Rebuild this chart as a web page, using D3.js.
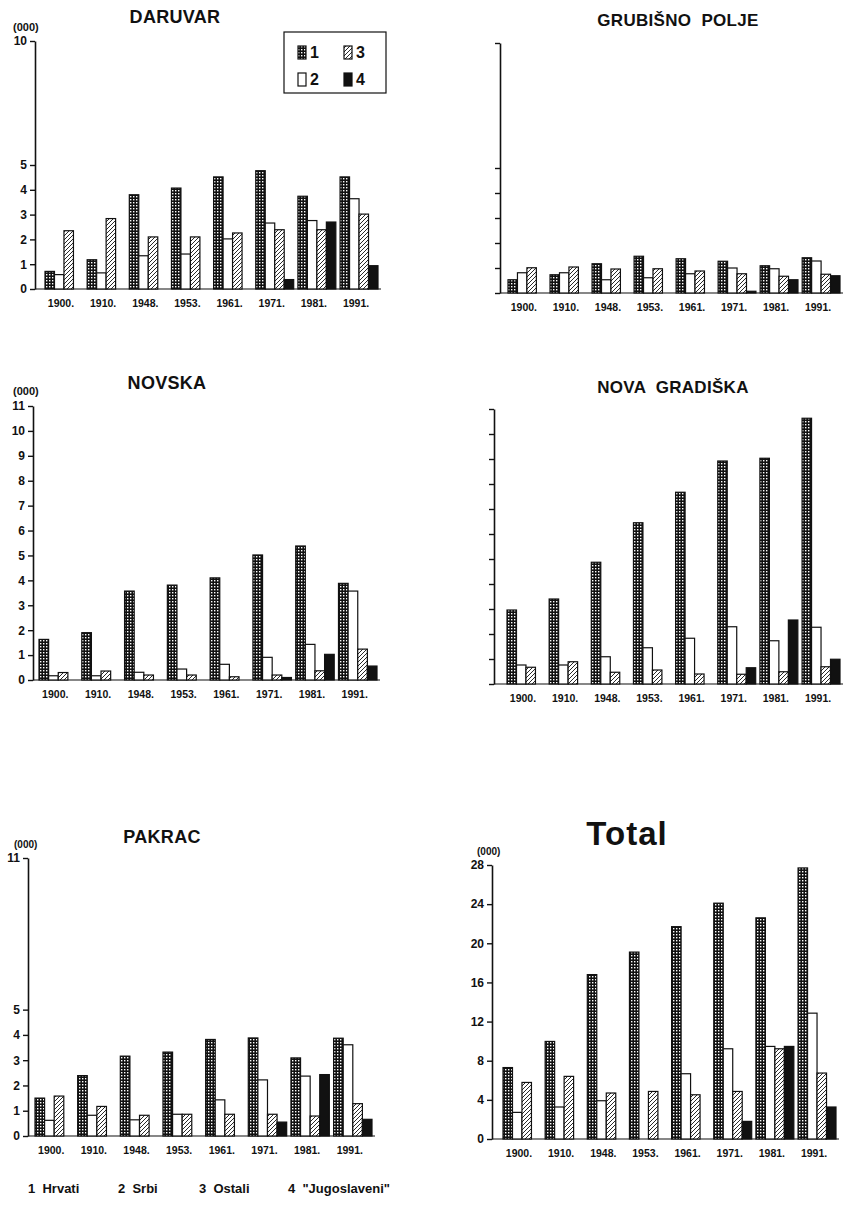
<!DOCTYPE html>
<html>
<head>
<meta charset="utf-8">
<script src="https://cdn.jsdelivr.net/npm/d3@7"></script>
<style>
  body { margin: 0; background: #fff; }
  text { font-family: "Liberation Sans", Arial, sans-serif; font-weight: bold; fill: #111; white-space: pre; }
</style>
</head>
<body>
<svg id="chart"></svg>
<script>
// census years and the four groups
var years = ['1900.', '1910.', '1948.', '1953.', '1961.', '1971.', '1981.', '1991.'];
var groupNames = ['1  Hrvati', '2  Srbi', '3  Ostali', '4  "Jugoslaveni"'];

// thousands of people, rows = Hrvati, Srbi, Ostali, Jugoslaveni
var daruvar = [
  [0.71, 1.18, 3.80, 4.07, 4.52, 4.77, 3.74, 4.52],
  [0.58, 0.65, 1.34, 1.41, 2.02, 2.66, 2.76, 3.64],
  [2.35, 2.84, 2.10, 2.10, 2.26, 2.39, 2.39, 3.02],
  [0, 0, 0, 0, 0, 0.38, 2.70, 0.94]
];
var grubisno = [
  [0.53, 0.73, 1.17, 1.47, 1.37, 1.27, 1.09, 1.41],
  [0.81, 0.81, 0.53, 0.61, 0.77, 1.00, 0.97, 1.28],
  [1.01, 1.04, 0.96, 0.97, 0.88, 0.77, 0.67, 0.75],
  [0, 0, 0, 0, 0, 0.07, 0.53, 0.69]
];
var novska = [
  [1.63, 1.90, 3.57, 3.81, 4.10, 5.02, 5.38, 3.88],
  [0.17, 0.17, 0.31, 0.44, 0.63, 0.91, 1.43, 3.57],
  [0.30, 0.36, 0.20, 0.20, 0.13, 0.20, 0.37, 1.24],
  [0, 0, 0, 0, 0, 0.10, 1.03, 0.56]
];
var novaGradiska = [
  [2.96, 3.40, 4.87, 6.45, 7.67, 8.92, 9.03, 10.63],
  [0.76, 0.76, 1.09, 1.45, 1.83, 2.29, 1.73, 2.27],
  [0.67, 0.89, 0.47, 0.56, 0.40, 0.39, 0.49, 0.69],
  [0, 0, 0, 0, 0, 0.65, 2.56, 0.99]
];
var pakrac = [
  [1.50, 2.39, 3.16, 3.32, 3.82, 3.88, 3.09, 3.87],
  [0.62, 0.82, 0.64, 0.86, 1.43, 2.22, 2.37, 3.61],
  [1.58, 1.17, 0.82, 0.86, 0.86, 0.86, 0.79, 1.28],
  [0, 0, 0, 0, 0, 0.55, 2.43, 0.66]
];
var total = [
  [7.3, 9.97, 16.8, 19.1, 21.7, 24.1, 22.6, 27.7],
  [2.72, 3.27, 3.91, 0, 6.67, 9.22, 9.46, 12.86],
  [5.78, 6.4, 4.7, 4.86, 4.52, 4.86, 9.22, 6.74],
  [0, 0, 0, 0, 0, 1.8, 9.46, 3.27]
];

var W = 846, H = 1208;
var svg = d3.select('#chart').attr('width', W).attr('height', H);

var defs = svg.append('defs');
var grid = defs.append('pattern').attr('id', 'grid')
  .attr('patternUnits', 'userSpaceOnUse').attr('width', 3).attr('height', 3);
grid.append('rect').attr('width', 3).attr('height', 3).attr('fill', '#111');
grid.append('rect').attr('x', 1).attr('y', 1).attr('width', 1.4).attr('height', 1.4).attr('fill', '#fff');

var hatch = defs.append('pattern').attr('id', 'hatch')
  .attr('patternUnits', 'userSpaceOnUse').attr('width', 4).attr('height', 4);
hatch.append('rect').attr('width', 4).attr('height', 4).attr('fill', '#fff');
hatch.append('path').attr('d', 'M-1,1 l2,-2 M0,4 l4,-4 M3,5 l2,-2')
  .attr('stroke', '#111').attr('stroke-width', 0.9);

var fills = ['url(#grid)', '#fff', 'url(#hatch)', '#111'];

var panels = [
  { title: 'DARUVAR', data: daruvar, ax: 35, bx0: 45, bx1: 378, base: 289, top: 41, max: 10,
    ticks: [0, 1, 2, 3, 4, 5, 10], labels: true, tx: 175, ty: 23, ts: 18, unit: [13, 31, 11] },
  { title: 'GRUBIŠNO  POLJE', data: grubisno, ax: 500, bx0: 508, bx1: 840, base: 293, top: 43, max: 10,
    ticks: [0, 1, 2, 3, 4, 5, 10], labels: false, tx: 678, ty: 26, ts: 17 },
  { title: 'NOVSKA', data: novska, ax: 33, bx0: 39, bx1: 377, base: 680, top: 406, max: 11,
    ticks: d3.range(0, 12), labels: true, tx: 167, ty: 389, ts: 18, unit: [13, 395, 11] },
  { title: 'NOVA  GRADIŠKA', data: novaGradiska, ax: 494, bx0: 507, bx1: 840, base: 684, top: 409, max: 11,
    ticks: d3.range(0, 12), labels: false, tx: 673, ty: 393, ts: 17 },
  { title: 'PAKRAC', data: pakrac, ax: 28, bx0: 35, bx1: 372, base: 1136, top: 858, max: 11,
    ticks: [0, 1, 2, 3, 4, 5, 11], labels: true, tx: 162, ty: 843, ts: 18, unit: [14, 848, 10] },
  { title: 'Total', data: total, ax: 492, bx0: 503, bx1: 836, base: 1139, top: 865, max: 28,
    ticks: d3.range(0, 29, 4), labels: true, tx: 627, ty: 845, ts: 33, unit: [477, 855, 10] }
];

panels.forEach(p => {
  var g = svg.append('g');

  var y = d3.scaleLinear().domain([0, p.max]).range([p.base, p.top]);
  var x = d3.scaleBand().domain(years).range([p.bx0, p.bx1]).paddingInner(0.1);
  var xs = d3.scaleBand().domain(d3.range(4)).range([0, x.bandwidth()]);

  var yAxis = d3.axisLeft(y)
    .tickValues(p.ticks)
    .tickSize(5)
    .tickSizeOuter(0)
    .tickPadding(3)
    .tickFormat(p.labels ? d3.format('d') : '');

  var ay = g.append('g')
    .attr('transform', `translate(${p.ax},0)`)
    .call(yAxis);
  ay.select('.domain').attr('stroke', '#111').attr('stroke-width', 1.6);
  ay.selectAll('.tick line').attr('stroke', '#111').attr('stroke-width', 1.4);
  ay.selectAll('.tick text')
    .attr('font-size', 12).attr('font-family', '"Liberation Sans", Arial, sans-serif')
    .attr('font-weight', 'bold').attr('fill', '#111');

  // baseline
  g.append('line')
    .attr('x1', p.ax).attr('x2', p.bx1 + 3)
    .attr('y1', y(0)).attr('y2', y(0))
    .attr('stroke', '#111').attr('stroke-width', 1.2);

  // bars
  var rows = [];
  p.data.forEach((series, s) => {
    series.forEach((v, i) => { if (v > 0) rows.push({ s: s, year: years[i], v: v }); });
  });

  g.selectAll('.bar')
    .data(rows)
    .enter().append('rect')
    .attr('class', 'bar')
    .attr('x', d => x(d.year) + xs(d.s))
    .attr('width', xs.bandwidth())
    .attr('y', d => y(d.v))
    .attr('height', d => y(0) - y(d.v))
    .attr('fill', d => fills[d.s])
    .attr('stroke', '#111')
    .attr('stroke-width', 1.2);

  // year labels
  g.selectAll('.year')
    .data(years)
    .enter().append('text')
    .attr('class', 'year')
    .attr('x', d => x(d) + x.bandwidth() / 2 - 3)
    .attr('y', y(0) + 18)
    .attr('text-anchor', 'middle')
    .attr('font-size', 10.5)
    .text(d => d);

  g.append('text')
    .attr('x', p.tx).attr('y', p.ty)
    .attr('text-anchor', 'middle')
    .attr('font-size', p.ts)
    .attr('letter-spacing', p.title == 'Total' ? 1 : 0.3)
    .text(p.title);

  if (p.unit) {
    g.append('text')
      .attr('x', p.unit[0]).attr('y', p.unit[1])
      .attr('font-size', p.unit[2])
      .text('(000)');
  }
});

// legend box inside the Daruvar panel
var box = svg.append('g');
box.append('rect')
  .attr('x', 284).attr('y', 32).attr('width', 102).attr('height', 61)
  .attr('fill', '#fff').attr('stroke', '#111').attr('stroke-width', 1.2);
var boxItems = [
  { s: 0, x: 298, y: 46 }, { s: 2, x: 344, y: 46 },
  { s: 1, x: 298, y: 73 }, { s: 3, x: 344, y: 73 }
];
boxItems.forEach(b => {
  box.append('rect')
    .attr('x', b.x).attr('y', b.y).attr('width', 8).attr('height', 13)
    .attr('fill', fills[b.s]).attr('stroke', '#111').attr('stroke-width', 1.2);
  box.append('text')
    .attr('x', b.x + 12).attr('y', b.y + 12)
    .attr('font-size', 16)
    .text(b.s + 1);
});

// bottom legend
var legendX = [28, 118, 199, 288];
svg.selectAll('.legend')
  .data(groupNames)
  .enter().append('text')
  .attr('class', 'legend')
  .attr('x', (d, i) => legendX[i])
  .attr('y', 1193)
  .attr('font-size', 13)
  .text(d => d);
</script>
</body>
</html>
